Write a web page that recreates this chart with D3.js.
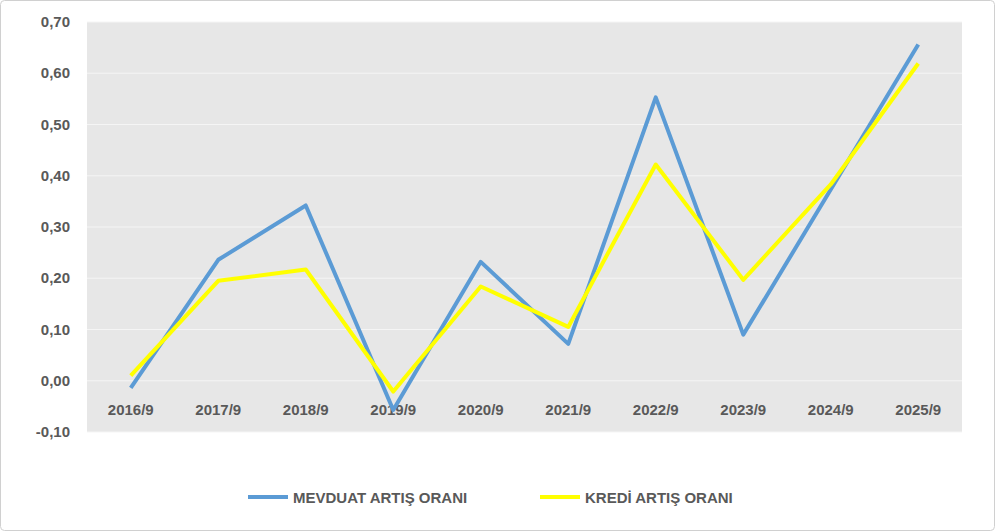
<!DOCTYPE html>
<html><head><meta charset="utf-8">
<script src="https://cdn.jsdelivr.net/npm/d3@7"></script>
<style>body{margin:0;background:#fff}svg{display:block}</style>
</head><body>
<script>
const categories=["2016/9","2017/9","2018/9","2019/9","2020/9","2021/9","2022/9","2023/9","2024/9","2025/9"];
const mevduat=[-0.014,0.236,0.342,-0.057,0.232,0.072,0.553,0.090,0.373,0.656];
const kredi=[0.010,0.195,0.217,-0.021,0.184,0.105,0.422,0.197,0.383,0.619];
const yTicks=[-0.1,0,0.1,0.2,0.3,0.4,0.5,0.6,0.7];
const seriesNames=["MEVDUAT ARTIŞ ORANI","KREDİ ARTIŞ ORANI"];
const colors=["#5b9bd5","#ffff00"];
const W=995,H=531;
const svg=d3.select("body").append("svg").attr("width",W).attr("height",H);
svg.append("rect").attr("x",0.5).attr("y",0.5).attr("width",W-1).attr("height",H-1).attr("rx",4).attr("fill","#fff").attr("stroke","#d0d0d0");
const L=87,R=962,T=22,B=432;
const x=d3.scaleBand().domain(categories).range([L,R]);
const y=d3.scaleLinear().domain([-0.1,0.7]).range([B,T]);
svg.append("rect").attr("x",L).attr("y",T).attr("width",R-L).attr("height",B-T).attr("fill","#e7e7e7");
svg.append("g").selectAll("line").data(yTicks).join("line").attr("x1",L).attr("x2",R)
 .attr("y1",d=>y(d)).attr("y2",d=>y(d)).attr("stroke","#f5f5f5").attr("stroke-width",1);
const fmt=d=>d3.format(".2f")(d).replace(".",",").replace("−","-");
svg.append("g").selectAll("text").data(yTicks).join("text").attr("x",L-17).attr("y",d=>y(d)+5)
 .attr("text-anchor","end").attr("font-family","Liberation Sans, Arial").attr("font-weight","bold").attr("font-size",15).attr("fill","#595959").text(fmt);
svg.append("g").selectAll("text").data(categories).join("text").attr("x",d=>x(d)+x.bandwidth()/2).attr("y",y(0)+34)
 .attr("text-anchor","middle").attr("font-family","Liberation Sans, Arial").attr("font-weight","bold").attr("font-size",15).attr("fill","#595959").text(d=>d);
const line=d3.line().x((d,i)=>x(categories[i])+x.bandwidth()/2).y(d=>y(d));
[mevduat,kredi].forEach((s,i)=>svg.append("path").datum(s).attr("d",line).attr("fill","none").attr("stroke",colors[i]).attr("stroke-width",4).attr("stroke-linejoin","round"));
const lg=[[248,seriesNames[0]],[540,seriesNames[1]]];
lg.forEach(([lx,name],i)=>{
 svg.append("line").attr("x1",lx).attr("x2",lx+40).attr("y1",497).attr("y2",497).attr("stroke",colors[i]).attr("stroke-width",4);
 svg.append("text").attr("x",lx+45).attr("y",503).attr("font-family","Liberation Sans, Arial").attr("font-weight","bold").attr("font-size",15).attr("fill","#595959").text(name);
});
</script>
</body></html>
